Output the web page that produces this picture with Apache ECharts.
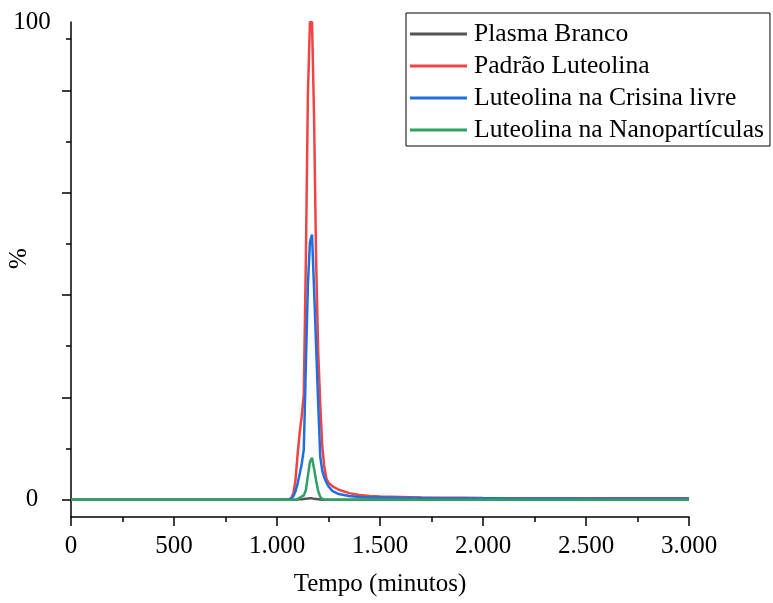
<!DOCTYPE html>
<html>
<head>
<meta charset="utf-8">
<script src="https://cdn.jsdelivr.net/npm/echarts@6/dist/echarts.min.js"></script>
<style>
  html, body { margin: 0; padding: 0; background: #fff; }
  #chart { width: 773px; height: 603px; }
</style>
</head>
<body>
<div id="chart"></div>
<script>
// Retention time (x) and relative intensity (%) of each chromatogram
const tempo = [0, 200, 400, 600, 800, 1000, 1040, 1060, 1070, 1080, 1090, 1100, 1110, 1120, 1130, 1140,
  1150, 1160, 1170, 1180, 1190, 1200, 1210, 1220, 1230, 1240, 1250, 1270, 1300, 1350, 1400, 1450,
  1500, 1600, 1700, 1800, 1900, 2000, 2200, 2400, 2600, 2800, 3000];

const plasmaBranco = [0, 0, 0, 0, 0, 0, 0, 0, 0, 0, 0, 0.05, 0.1, 0.1, 0.15, 0.2,
  0.25, 0.3, 0.3, 0.2, 0.15, 0.1, 0.05, 0, 0, 0, 0, 0, 0, 0, 0, 0,
  0, 0, 0, 0, 0, 0, 0, 0, 0, 0, 0];

const padraoLuteolina = [0, 0, 0, 0, 0, 0, 0, 0.1, 0.4, 1.5, 4.2, 9.5, 14, 17.5, 22, 50,
  85, 100, 100, 80, 50, 31, 20, 11, 6.8, 4.4, 3.6, 2.8, 2.1, 1.4, 1.0, 0.8,
  0.7, 0.6, 0.5, 0.45, 0.45, 0.4, 0.35, 0.35, 0.3, 0.3, 0.3];

const crisinaLivre = [0, 0, 0, 0, 0, 0, 0, 0.1, 0.3, 0.8, 1.8, 3.4, 5.4, 7.5, 10.5, 28,
  45, 54, 55.5, 44, 32, 20, 9, 6, 4.6, 3.6, 2.8, 1.8, 1.2, 0.8, 0.6, 0.5,
  0.5, 0.45, 0.4, 0.35, 0.3, 0.3, 0.25, 0.25, 0.2, 0.2, 0.2];

const nanoparticulas = [0, 0, 0, 0, 0, 0, 0, 0, 0, 0, 0, 0.2, 0.4, 0.7, 0.9, 2.0,
  5.0, 8.0, 8.8, 6.5, 4.0, 1.8, 0.6, 0.2, 0.05, 0, 0, 0, 0, 0, 0, 0,
  0, 0, 0, 0, 0, 0, 0, 0, 0, 0, 0];

const seriesNames = ['Plasma Branco', 'Padrão Luteolina', 'Luteolina na Crisina livre', 'Luteolina na Nanopartículas'];
const seriesColors = ['#555555', '#f04444', '#1f6fe0', '#30a064'];

// Axis ticks and labels
const xTicks = [0, 500, 1000, 1500, 2000, 2500, 3000];
const yLabelValues = [0, 100];
const yMajorTicks = [0, 21.43, 42.86, 64.29, 85.71];
const yMinorTicks = [10.71, 32.14, 53.57, 75, 96.43];

const FONT = '"Liberation Serif", "Times New Roman", serif';

function pairs(ys) {
  return tempo.map((t, i) => [t, ys[i]]);
}

function thousands(v) {
  return String(v).replace(/\B(?=(\d{3})+(?!\d))/g, '.');
}

const chart = echarts.init(document.getElementById('chart'), null, { renderer: 'canvas' });

const allSeries = [plasmaBranco, padraoLuteolina, crisinaLivre, nanoparticulas].map((ys, i) => ({
  name: seriesNames[i],
  type: 'line',
  data: pairs(ys),
  showSymbol: false,
  symbol: 'none',
  smooth: false,
  color: seriesColors[i],
  lineStyle: { width: 2.5, color: seriesColors[i] },
  z: 2 + i
}));

chart.setOption({
  animation: false,
  backgroundColor: '#ffffff',
  textStyle: { fontFamily: FONT, color: '#000' },
  grid: { left: 71, right: 84, top: 22, bottom: 86, containLabel: false, outerBoundsMode: 'none' },
  legend: {
    data: seriesNames,
    orient: 'vertical',
    left: 406,
    top: 13,
    icon: 'rect',
    itemWidth: 57,
    itemHeight: 3,
    itemGap: 6,
    padding: [8, 6, 3, 4],
    borderColor: '#000',
    borderWidth: 1,
    textStyle: { fontFamily: FONT, fontSize: 25.6, lineHeight: 25, color: '#000', padding: [0, 0, 0, 2] }
  },
  xAxis: {
    type: 'value',
    min: xTicks[0],
    max: xTicks[xTicks.length - 1],
    interval: xTicks[1] - xTicks[0],
    name: 'Tempo (minutos)',
    nameLocation: 'middle',
    nameGap: 55,
    nameMoveOverlap: false,
    nameTextStyle: { fontFamily: FONT, fontSize: 25, color: '#000' },
    axisLine: { onZero: false, lineStyle: { color: '#000', width: 1.5 } },
    axisTick: { show: true, length: 9, lineStyle: { color: '#000', width: 1.5 } },
    minorTick: { show: true, splitNumber: 2, length: 5, lineStyle: { color: '#000', width: 1.5 } },
    axisLabel: { margin: 17, fontFamily: FONT, fontSize: 25, color: '#000', formatter: thousands },
    splitLine: { show: false }
  },
  yAxis: [
    {
      type: 'value',
      min: -3.6,
      max: 100,
      name: '%',
      nameLocation: 'middle',
      nameGap: 39,
      nameRotate: 90,
      nameMoveOverlap: false,
      nameTextStyle: { fontFamily: FONT, fontSize: 25, color: '#000', padding: [0, 0, 0, 22] },
      axisLine: { show: true, onZero: false, lineStyle: { color: '#000', width: 1.5 } },
      axisTick: { show: true, length: 9, customValues: yMajorTicks, lineStyle: { color: '#000', width: 1.5 } },
      axisLabel: { customValues: yLabelValues, margin: 39, align: 'center', fontFamily: FONT, fontSize: 25, color: '#000' },
      splitLine: { show: false }
    },
    {
      type: 'value',
      min: -3.6,
      max: 100,
      position: 'left',
      offset: 0,
      axisLine: { show: false },
      axisTick: { show: true, length: 5, customValues: yMinorTicks, lineStyle: { color: '#000', width: 1.5 } },
      axisLabel: { show: false },
      splitLine: { show: false }
    }
  ],
  series: allSeries
});
</script>
</body>
</html>
